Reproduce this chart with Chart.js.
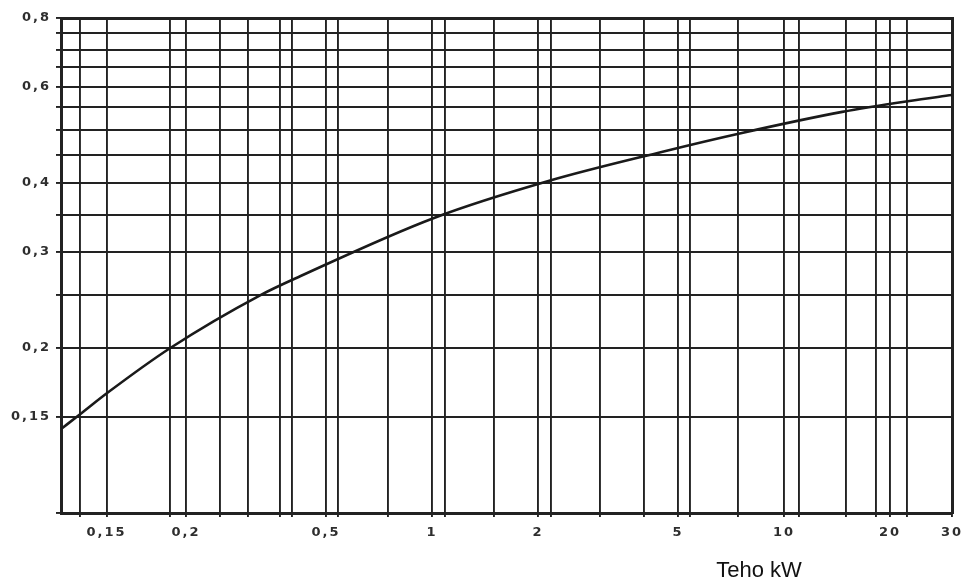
<!DOCTYPE html>
<html>
<head>
<meta charset="utf-8">
<script src="https://cdn.jsdelivr.net/npm/chart.js@4/dist/chart.umd.min.js"></script>
<style>
  html, body { margin: 0; padding: 0; background: #fff; }
  #wrap { width: 962px; height: 583px; position: relative; }
</style>
</head>
<body>
<div id="wrap"><canvas id="c" width="962" height="583"></canvas></div>
<script>
// Curve (power kW vs value)
const curveX = [0.0883, 0.0994, 0.1194, 0.1805, 0.3257, 0.4233, 1.013, 2.141, 4.49, 7.59, 14.63, 22.7, 30];
const curveY = [0.1423, 0.1509, 0.1655, 0.2, 0.2498, 0.2706, 0.3454, 0.4034, 0.4558, 0.4936, 0.5393, 0.5646, 0.579];

// Vertical grid lines (x values) as printed on the sheet
const xGridValues = [0.1, 0.119, 0.18, 0.2, 0.25, 0.3, 0.37, 0.4, 0.5, 0.54, 0.75, 1, 1.09, 1.5, 2, 2.17, 3, 4, 5, 5.4, 7.4, 10, 11, 15, 18.3, 20, 22.3, 30];
// Labelled x ticks
const xTickValues = [0.119, 0.2, 0.5, 1, 2, 5, 10, 20, 30];
const xTickLabels = ['0,15', '0,2', '0,5', '1', '2', '5', '10', '20', '30'];

// Horizontal grid lines
const yGridValues = [0.1, 0.15, 0.2, 0.25, 0.3, 0.35, 0.4, 0.45, 0.5, 0.55, 0.6, 0.65, 0.7, 0.75, 0.8];
const yTickValues = [0.15, 0.2, 0.3, 0.4, 0.6, 0.8];
const yTickLabels = ['0,15', '0,2', '0,3', '0,4', '0,6', '0,8'];

const xTitle = 'Teho kW';

const xMin = 0.0883, xMax = 30, yMin = 0.1, yMax = 0.8;

function labelFor(vals, labels, v) {
  for (let i = 0; i < vals.length; i++) {
    if (Math.abs(vals[i] - v) < 1e-9) return labels[i];
  }
  return '';
}

const points = curveX.map((x, i) => ({ x: x, y: curveY[i] }));

const gridColor = '#222';
const labelFont = { family: 'DejaVu Sans', size: 13, weight: 'bold' };

const spacingPlugin = {
  id: 'spacing',
  beforeDraw(chart) { chart.ctx.letterSpacing = '2px'; },
  afterDraw(chart) {
    const ctx = chart.ctx;
    ctx.save();
    ctx.letterSpacing = '0px';
    ctx.font = '22px "Liberation Sans", Arial, sans-serif';
    ctx.fillStyle = '#111';
    ctx.textAlign = 'center';
    ctx.textBaseline = 'alphabetic';
    ctx.fillText(xTitle, 759, 577);
    ctx.restore();
  }
};

new Chart(document.getElementById('c'), {
  type: 'line',
  data: {
    datasets: [{
      data: points,
      borderColor: '#1a1a1a',
      borderWidth: 2.6,
      pointRadius: 0,
      fill: false,
      cubicInterpolationMode: 'monotone'
    }]
  },
  options: {
    responsive: false,
    animation: false,
    devicePixelRatio: 1,
    layout: { padding: { top: 18, right: 10, left: 0, bottom: 0 } },
    plugins: { legend: { display: false }, tooltip: { enabled: false } },
    scales: {
      x: {
        type: 'logarithmic',
        min: xMin,
        max: xMax,
        afterBuildTicks(scale) { scale.ticks = xGridValues.map(v => ({ value: v })); },
        afterFit(scale) { scale.height = 70; scale.paddingRight = 0; scale.paddingLeft = 0; },
        ticks: {
          autoSkip: false,
          maxRotation: 0,
          minRotation: 0,
          padding: 8,
          color: '#2e2e2e',
          font: labelFont,
          callback: (v) => labelFor(xTickValues, xTickLabels, v)
        },
        grid: { color: gridColor, lineWidth: 1.9, tickLength: 4, drawOnChartArea: true },
        border: { color: gridColor, width: 3 }
      },
      y: {
        type: 'logarithmic',
        min: yMin,
        max: yMax,
        afterBuildTicks(scale) { scale.ticks = yGridValues.map(v => ({ value: v })); },
        afterFit(scale) { scale.width = 61; scale.paddingTop = 0; scale.paddingBottom = 0; },
        ticks: {
          autoSkip: false,
          padding: 5,
          color: '#2e2e2e',
          font: labelFont,
          callback: (v) => labelFor(yTickValues, yTickLabels, v)
        },
        grid: { color: gridColor, lineWidth: 1.9, tickLength: 5 },
        border: { color: gridColor, width: 3 }
      },
      x2: {
        type: 'logarithmic', position: 'top', min: xMin, max: xMax,
        display: true,
        afterFit(scale) { scale.height = 0; scale.paddingRight = 0; scale.paddingLeft = 0; },
        ticks: { display: false },
        grid: { display: false },
        border: { color: gridColor, width: 3 }
      },
      y2: {
        type: 'logarithmic', position: 'right', min: yMin, max: yMax,
        display: true,
        afterFit(scale) { scale.width = 0; },
        ticks: { display: false },
        grid: { display: false },
        border: { color: gridColor, width: 3 }
      }
    }
  },
  plugins: [spacingPlugin]
});
</script>
</body>
</html>
